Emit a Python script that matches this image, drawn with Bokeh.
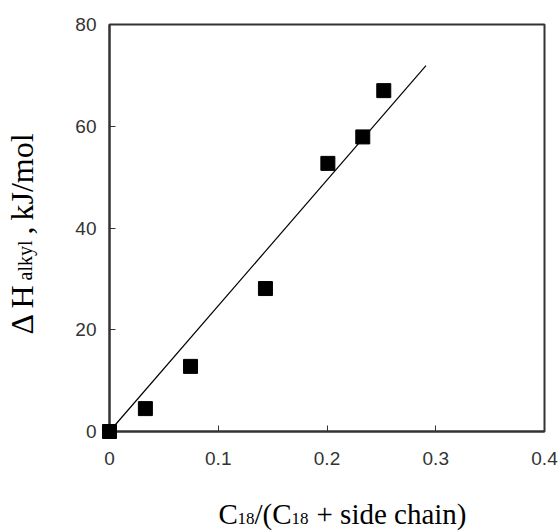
import math
from bokeh.plotting import figure
from bokeh.models import Range1d, FixedTicker
from bokeh.core.properties import value
from bokeh.embed import file_html
from bokeh.resources import INLINE

# ---- data ----
x_vals = [0.0, 0.033, 0.0745, 0.1434, 0.2008, 0.2329, 0.2522]
y_vals = [0.0, 4.5, 12.8, 28.1, 52.7, 57.9, 67.0]
fit_x = [0.0, 0.291]
fit_y = [0.0, 71.9]
x_ticks = [0, 0.1, 0.2, 0.3, 0.4]
y_ticks = [0, 20, 40, 60, 80]

W, H = 560, 532
FL, FR, FT, FB = 109, 544, 24, 431  # frame edges in pixels
X0, X1, Y0, Y1 = 0.0, 0.4, 0.0, 80.0

p = figure(width=W, height=H, output_backend="svg", toolbar_location=None,
           x_range=Range1d(X0, X1), y_range=Range1d(Y0, Y1),
           min_border_left=FL, min_border_right=W - FR,
           min_border_top=FT, min_border_bottom=H - FB)
p.grid.visible = False
p.background_fill_color = "white"
p.border_fill_color = "white"
p.outline_line_color = "#333333"
p.outline_line_width = 2

for ax in (p.xaxis[0], p.yaxis[0]):
    ax.axis_line_width = 2
    ax.axis_line_color = "#333333"
    ax.major_tick_in = 6
    ax.major_tick_out = 0
    ax.minor_tick_in = 0
    ax.minor_tick_out = 0
    ax.major_tick_line_color = "#333333"
    ax.major_tick_line_width = 1
    ax.major_label_text_font = "Liberation Sans"
    ax.major_label_text_font_size = "19px"
    ax.major_label_text_color = "#333333"

p.xaxis.ticker = FixedTicker(ticks=x_ticks)
p.yaxis.ticker = FixedTicker(ticks=y_ticks)
p.xaxis.major_label_overrides = {0: "0"}
p.xaxis.major_label_standoff = 20
p.yaxis.major_label_standoff = 13

p.line(fit_x, fit_y, line_color="black", line_width=1.2)
p.scatter(x_vals, y_vals, marker="square", size=14, color="black", level="overlay")


def dx(px):
    return X0 + (px - FL) / (FR - FL) * (X1 - X0)


def dy(py):
    return Y0 + (FB - py) / (FB - FT) * (Y1 - Y0)


def lab(text, px, py, size, angle=0.0):
    p.text(x=[dx(px)], y=[dy(py)], text=[text], angle=angle,
           text_font=value("Liberation Serif"), text_font_size=value(f"{size}px"),
           text_color="black", text_align="left", text_baseline="alphabetic",
           level="overlay")


# x axis title: C18/(C18 + side chain)
lab("C", 218, 513, 29)
lab("18", 237, 518, 17)
lab("/(C", 254, 513, 29)
lab("18", 291, 518, 17)
lab("+ side chain)", 316, 513, 29)

# y axis title: ΔH_alkyl, kJ/mol (rotated)
a = math.pi / 2
lab("Δ", 21, 334, 32, a)
lab("H", 21, 308, 32, a)
lab("alkyl", 24, 280, 20, a)
lab(",", 21, 234, 32, a)
lab("kJ/mol", 21, 220, 32, a)

open("out.html", "w").write(file_html(p, INLINE))
